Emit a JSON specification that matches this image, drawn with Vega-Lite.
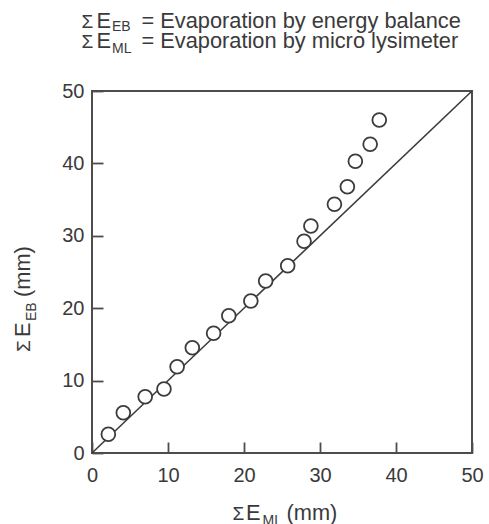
{
  "$schema": "https://vega.github.io/schema/vega-lite/v6.json",
  "width": 380,
  "height": 362,
  "autosize": {"type": "none"},
  "padding": {"left": 92, "top": 91, "right": 17, "bottom": 71},
  "background": "white",
  "config": {
    "view": {"stroke": "#4d4d4d", "strokeWidth": 2},
    "text": {"font": "Liberation Sans", "color": "#3a3a3a", "align": "left", "baseline": "alphabetic"}
  },
  "datasets": {
    "evaporation": [
      {"ml": 2.15, "eb": 2.58},
      {"ml": 4.12, "eb": 5.57},
      {"ml": 7.0, "eb": 7.78},
      {"ml": 9.47, "eb": 8.84},
      {"ml": 11.2, "eb": 11.92},
      {"ml": 13.2, "eb": 14.54},
      {"ml": 16.0, "eb": 16.53},
      {"ml": 18.0, "eb": 18.96},
      {"ml": 20.9, "eb": 21.0},
      {"ml": 22.85, "eb": 23.76},
      {"ml": 25.75, "eb": 25.87},
      {"ml": 27.9, "eb": 29.24},
      {"ml": 28.8, "eb": 31.35},
      {"ml": 31.9, "eb": 34.35},
      {"ml": 33.6, "eb": 36.78},
      {"ml": 34.65, "eb": 40.29},
      {"ml": 36.6, "eb": 42.64},
      {"ml": 37.8, "eb": 45.99}
    ]
  },
  "layer": [
    {
      "description": "1:1 line",
      "data": {"values": [{}]},
      "mark": {"type": "rule", "stroke": "#3c3c3c", "strokeWidth": 1.6},
      "encoding": {
        "x": {"datum": 0, "type": "quantitative", "scale": {"domain": [0, 50], "nice": false},
              "axis": {"values": [0, 10, 20, 30, 40, 50], "title": null, "domain": false, "grid": false,
                       "offset": -11, "tickSize": 11, "tickWidth": 1.8, "tickColor": "#4d4d4d",
                       "labelFont": "Liberation Sans", "labelFontSize": 20, "labelColor": "#3a3a3a",
                       "labelPadding": 12.5, "labelFlush": false, "labelOverlap": false}},
        "y": {"datum": 0, "type": "quantitative", "scale": {"domain": [0, 50], "nice": false},
              "axis": {"values": [0, 10, 20, 30, 40, 50], "title": null, "domain": false, "grid": false,
                       "offset": -11, "tickSize": 11, "tickWidth": 1.8, "tickColor": "#4d4d4d",
                       "labelFont": "Liberation Sans", "labelFontSize": 20, "labelColor": "#3a3a3a",
                       "labelPadding": 8, "labelFlush": false, "labelOverlap": false}},
        "x2": {"datum": 50},
        "y2": {"datum": 50}
      }
    },
    {
      "data": {"name": "evaporation"},
      "mark": {"type": "point", "shape": "circle", "filled": true, "fill": "white", "fillOpacity": 1, "opacity": 1, "stroke": "#3c3c3c", "strokeWidth": 1.8, "size": 190},
      "encoding": {
        "x": {"field": "ml", "type": "quantitative", "scale": {"domain": [0, 50], "nice": false},
              "axis": {"values": [0, 10, 20, 30, 40, 50], "title": null, "domain": false, "grid": false,
                       "offset": -11, "tickSize": 11, "tickWidth": 1.8, "tickColor": "#4d4d4d",
                       "labelFont": "Liberation Sans", "labelFontSize": 20, "labelColor": "#3a3a3a",
                       "labelPadding": 12.5, "labelFlush": false, "labelOverlap": false}},
        "y": {"field": "eb", "type": "quantitative", "scale": {"domain": [0, 50], "nice": false},
              "axis": {"values": [0, 10, 20, 30, 40, 50], "title": null, "domain": false, "grid": false,
                       "offset": -11, "tickSize": 11, "tickWidth": 1.8, "tickColor": "#4d4d4d",
                       "labelFont": "Liberation Sans", "labelFontSize": 20, "labelColor": "#3a3a3a",
                       "labelPadding": 8, "labelFlush": false, "labelOverlap": false}}
      }
    },
    {
      "data": {"values": [{"label": "Σ"}]},
      "mark": {"type": "text", "fontSize": 19},
      "encoding": {"x": {"datum": -1.38}, "y": {"datum": 58.77}, "text": {"field": "label"}}
    },
    {
      "data": {"values": [{"label": "E"}]},
      "mark": {"type": "text", "fontSize": 21.8},
      "encoding": {"x": {"datum": 0.59}, "y": {"datum": 58.77}, "text": {"field": "label"}}
    },
    {
      "data": {"values": [{"label": "EB"}]},
      "mark": {"type": "text", "fontSize": 14},
      "encoding": {"x": {"datum": 2.63}, "y": {"datum": 58.22}, "text": {"field": "label"}}
    },
    {
      "data": {"values": [{"label": "= Evaporation by energy balance"}]},
      "mark": {"type": "text", "fontSize": 21.8},
      "encoding": {"x": {"datum": 6.51}, "y": {"datum": 58.77}, "text": {"field": "label"}}
    },
    {
      "data": {"values": [{"label": "Σ"}]},
      "mark": {"type": "text", "fontSize": 19},
      "encoding": {"x": {"datum": -1.38}, "y": {"datum": 55.94}, "text": {"field": "label"}}
    },
    {
      "data": {"values": [{"label": "E"}]},
      "mark": {"type": "text", "fontSize": 21.8},
      "encoding": {"x": {"datum": 0.59}, "y": {"datum": 55.94}, "text": {"field": "label"}}
    },
    {
      "data": {"values": [{"label": "ML"}]},
      "mark": {"type": "text", "fontSize": 14},
      "encoding": {"x": {"datum": 2.63}, "y": {"datum": 55.18}, "text": {"field": "label"}}
    },
    {
      "data": {"values": [{"label": "= Evaporation by micro lysimeter"}]},
      "mark": {"type": "text", "fontSize": 21.8},
      "encoding": {"x": {"datum": 6.51}, "y": {"datum": 55.94}, "text": {"field": "label"}}
    },
    {
      "data": {"values": [{"label": "Σ"}]},
      "mark": {"type": "text", "fontSize": 19},
      "encoding": {"x": {"datum": 18.49}, "y": {"datum": -9.19}, "text": {"field": "label"}}
    },
    {
      "data": {"values": [{"label": "E"}]},
      "mark": {"type": "text", "fontSize": 21.8},
      "encoding": {"x": {"datum": 20.26}, "y": {"datum": -9.19}, "text": {"field": "label"}}
    },
    {
      "data": {"values": [{"label": "ML"}]},
      "mark": {"type": "text", "fontSize": 14},
      "encoding": {"x": {"datum": 22.43}, "y": {"datum": -9.94}, "text": {"field": "label"}}
    },
    {
      "data": {"values": [{"label": "(mm)"}]},
      "mark": {"type": "text", "fontSize": 21.8},
      "encoding": {"x": {"datum": 25.59}, "y": {"datum": -9.19}, "text": {"field": "label"}}
    },
    {
      "data": {"values": [{"label": "Σ"}]},
      "mark": {"type": "text", "fontSize": 19, "angle": 270},
      "encoding": {"x": {"datum": -8.16}, "y": {"datum": 13.95}, "text": {"field": "label"}}
    },
    {
      "data": {"values": [{"label": "E"}]},
      "mark": {"type": "text", "fontSize": 21.8, "angle": 270},
      "encoding": {"x": {"datum": -8.16}, "y": {"datum": 16.02}, "text": {"field": "label"}}
    },
    {
      "data": {"values": [{"label": "EB"}]},
      "mark": {"type": "text", "fontSize": 14, "angle": 270},
      "encoding": {"x": {"datum": -7.37}, "y": {"datum": 18.23}, "text": {"field": "label"}}
    },
    {
      "data": {"values": [{"label": "(mm)"}]},
      "mark": {"type": "text", "fontSize": 21.8, "angle": 270},
      "encoding": {"x": {"datum": -8.16}, "y": {"datum": 21.55}, "text": {"field": "label"}}
    }
  ]
}
